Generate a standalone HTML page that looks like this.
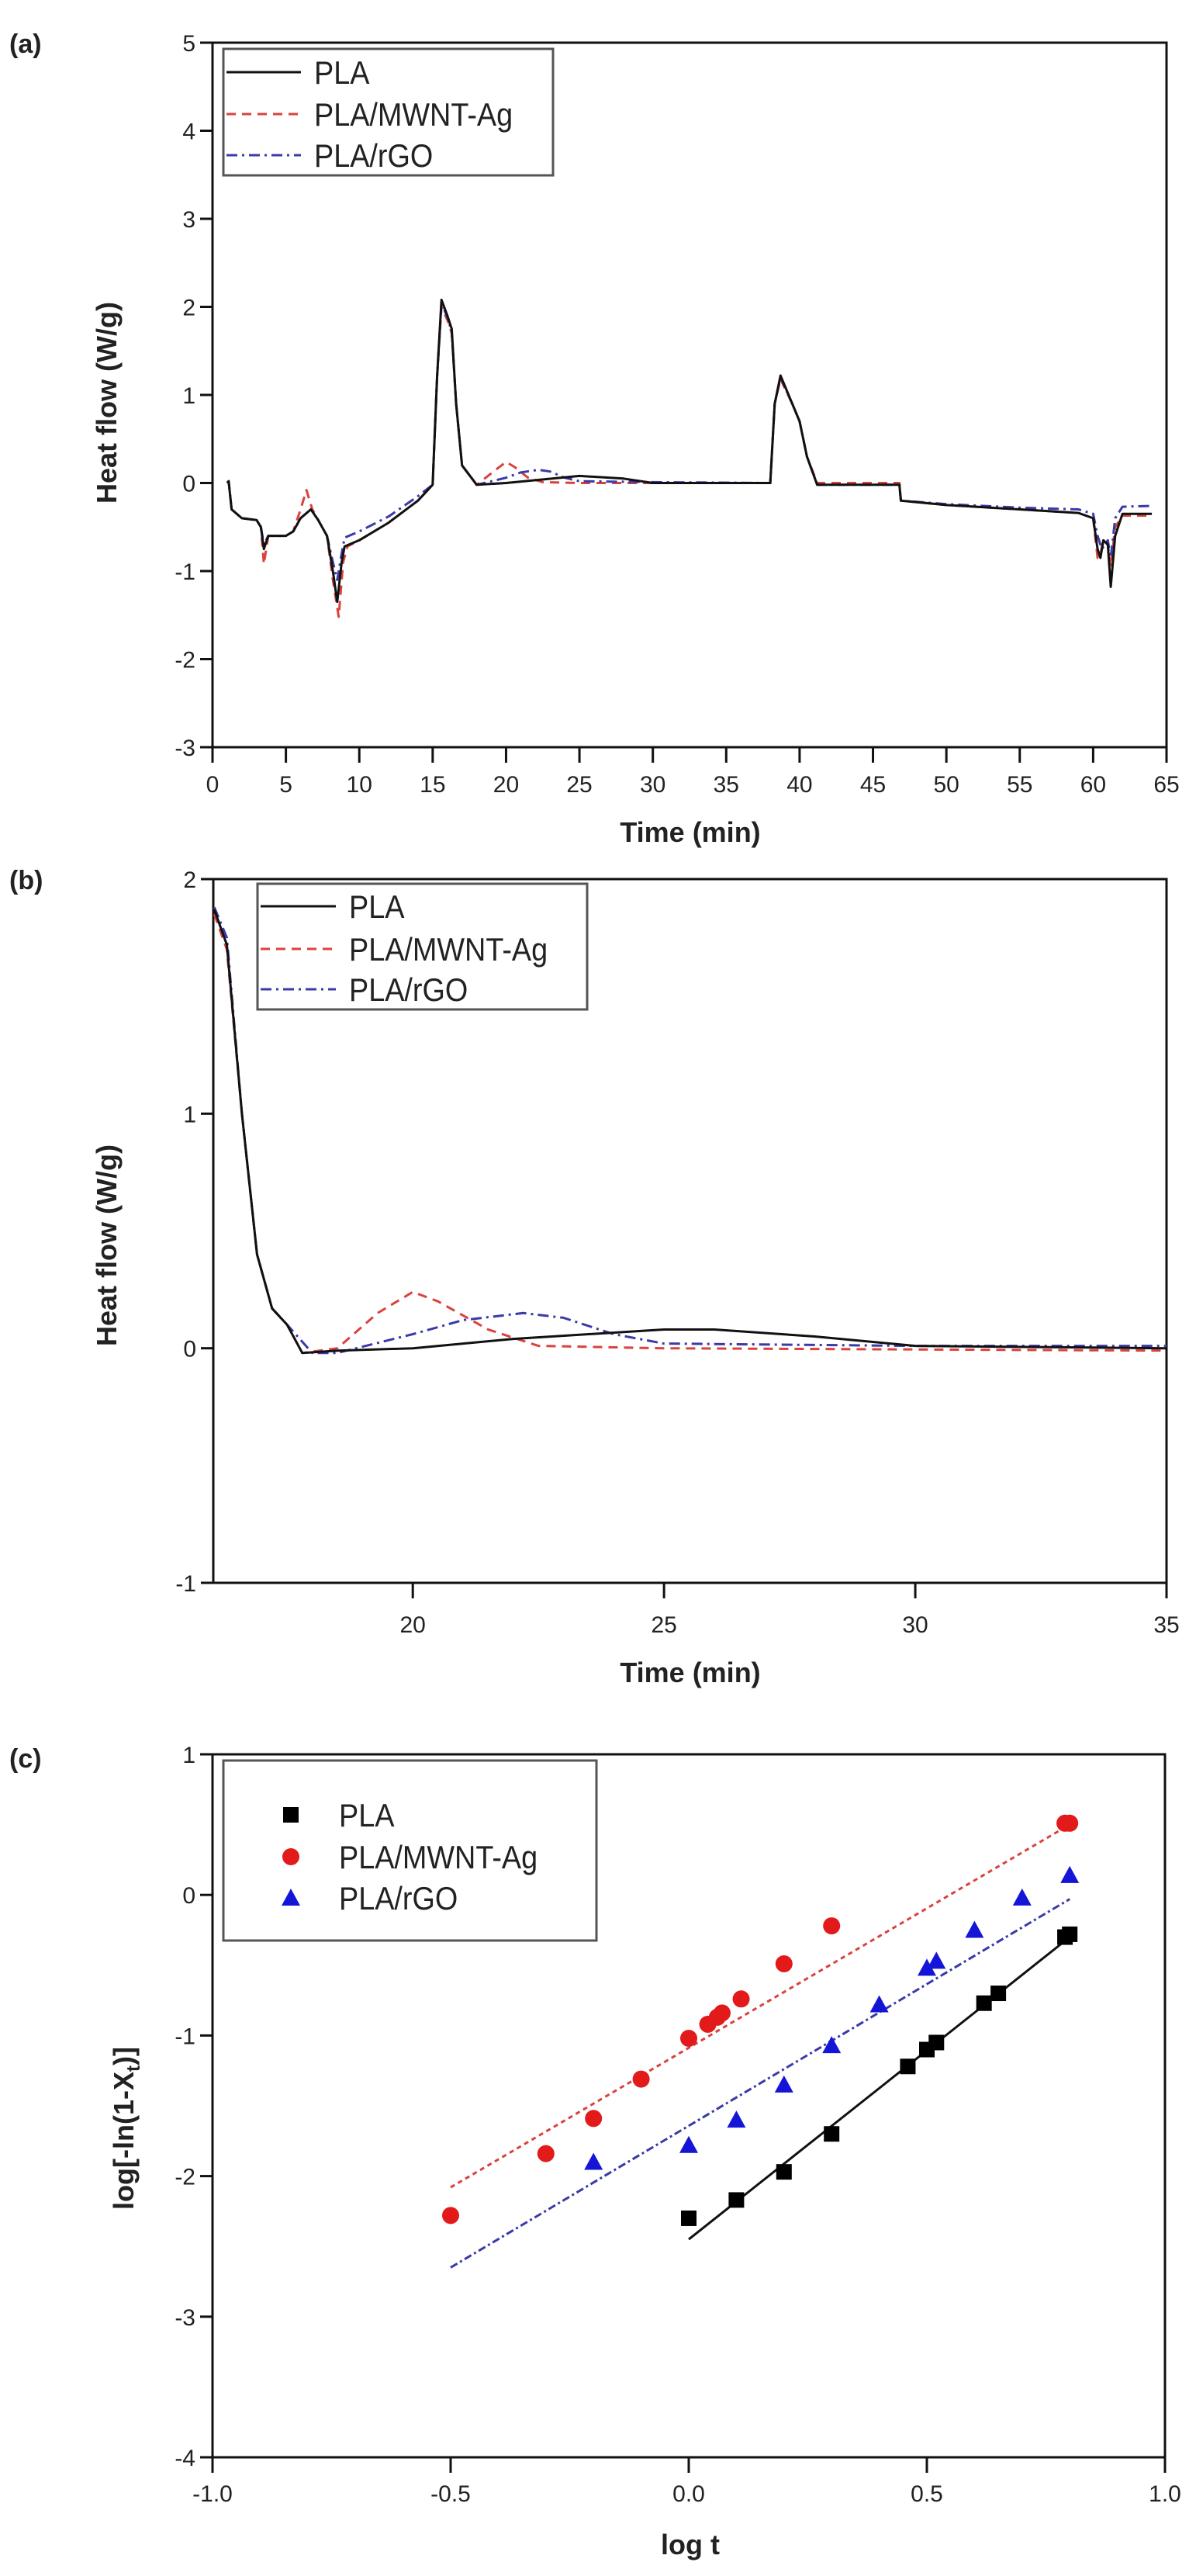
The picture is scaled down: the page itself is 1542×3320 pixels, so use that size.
<!DOCTYPE html>
<html><head><meta charset="utf-8">
<style>
html,body{margin:0;padding:0;background:#fff;}
svg{display:block;}
text{font-family:"Liberation Sans",Arial,sans-serif;}
</style></head>
<body>
<svg id="s" width="1542" height="3320" viewBox="0 0 1542 3320" xmlns="http://www.w3.org/2000/svg">
<rect width="1542" height="3320" fill="#fff"/>
<g id="g"></g>
<text transform="translate(172,2743) rotate(-90)" text-anchor="middle" font-size="36" font-weight="bold" fill="#222">log[-ln(1-X<tspan font-size="24" dy="8">t</tspan><tspan dy="-8">)]</tspan></text>
</svg>
<script>
const NS="http://www.w3.org/2000/svg";
const g=document.getElementById('g');
function el(t,a,txt){const e=document.createElementNS(NS,t);for(const k in a)e.setAttribute(k,a[k]);if(txt!==undefined)e.textContent=txt;g.appendChild(e);return e;}
function txt(x,y,s,o){o=o||{};return el('text',Object.assign({x:x,y:y,'font-size':o.fs||30,'text-anchor':o.a||'middle','font-weight':o.w||'normal',fill:'#222'},o.extra||{}),s);}
function panel(P){
  const X=v=>P.x0+(v-P.xmin)/(P.xmax-P.xmin)*(P.x1-P.x0);
  const Y=v=>P.y1-(v-P.ymin)/(P.ymax-P.ymin)*(P.y1-P.y0);
  el('rect',{x:P.x0,y:P.y0,width:P.x1-P.x0,height:P.y1-P.y0,fill:'none',stroke:'#111','stroke-width':3});
  P.xt.forEach(v=>{const x=X(v);el('line',{x1:x,y1:P.y1,x2:x,y2:P.y1+20,stroke:'#111','stroke-width':3});txt(x,P.xly,P.xfmt?P.xfmt(v):String(v));});
  P.yt.forEach(v=>{const y=Y(v);el('line',{x1:P.x0-16,y1:y,x2:P.x0,y2:y,stroke:'#111','stroke-width':3});txt(P.x0-22,y+11,String(v),{a:'end'});});
  return [X,Y];
}
function path(X,Y,pts,col,dash){let d=pts.map((p,i)=>(i?'L':'M')+X(p[0]).toFixed(1)+' '+Y(p[1]).toFixed(1)).join(' ');const a={d:d,fill:'none',stroke:col,'stroke-width':3,'stroke-linejoin':'round'};if(dash)a['stroke-dasharray']=dash;el('path',a);}
const DASH='12 8', DD='14 6 3 6';
let [X,Y]=panel({x0:274,x1:1504,y0:55,y1:963,xmin:0,xmax:65,ymin:-3,ymax:5,xt:[0,5,10,15,20,25,30,35,40,45,50,55,60,65],yt:[5,4,3,2,1,0,-1,-2,-3],xly:1021});
txt(12,68,'(a)',{a:'start',fs:34,w:'bold',extra:{'font-family':'Liberation Serif'}});
txt(890,1085,'Time (min)',{fs:36,w:'bold'});
el('text',{x:0,y:0,transform:'translate(150,519) rotate(-90)','text-anchor':'middle','font-size':36,'font-weight':'bold',fill:'#222'},'Heat flow (W/g)');
const aPLA=[[1,0],[1.1,0.02],[1.3,-0.3],[2,-0.4],[3,-0.42],[3.3,-0.5],[3.5,-0.75],[3.8,-0.6],[5,-0.6],[5.5,-0.55],[6,-0.4],[6.7,-0.3],[7.2,-0.42],[7.8,-0.6],[8.2,-1.0],[8.5,-1.35],[8.8,-0.9],[9,-0.72],[10,-0.65],[12,-0.45],[14,-0.2],[15,-0.02],[15.3,1.2],[15.6,2.08],[16,1.9],[16.3,1.75],[16.6,0.9],[17,0.2],[18,-0.02],[20,0],[25,0.08],[28,0.05],[30,0],[38,0],[38.3,0.9],[38.7,1.22],[39.5,0.9],[40,0.7],[40.5,0.3],[41.2,-0.02],[45,-0.02],[46.8,-0.02],[46.9,-0.2],[50,-0.25],[55,-0.3],[59,-0.34],[60,-0.4],[60.3,-0.75],[60.5,-0.85],[60.7,-0.65],[61,-0.7],[61.2,-1.18],[61.5,-0.6],[62,-0.35],[64,-0.35]];
const aRed=[[1,0],[1.1,0.02],[1.3,-0.3],[2,-0.4],[3,-0.42],[3.3,-0.5],[3.5,-0.92],[3.8,-0.6],[5,-0.6],[5.5,-0.55],[6,-0.3],[6.4,-0.08],[6.8,-0.3],[7.2,-0.42],[7.8,-0.6],[8.2,-1.1],[8.6,-1.52],[8.9,-0.9],[9.2,-0.72],[10,-0.65],[12,-0.45],[14,-0.2],[15,-0.02],[15.3,1.2],[15.6,2.0],[16,1.85],[16.3,1.7],[16.6,0.9],[17,0.2],[18,-0.02],[19.3,0.15],[20,0.24],[20.6,0.18],[21.5,0.06],[22.5,0.01],[25,0],[30,0],[38,0],[38.3,0.9],[38.7,1.18],[39.5,0.9],[40,0.7],[40.5,0.3],[41.2,0],[45,0],[46.8,0],[46.9,-0.2],[50,-0.25],[55,-0.3],[59,-0.34],[60,-0.4],[60.3,-0.85],[60.5,-0.8],[60.7,-0.65],[61,-0.7],[61.2,-0.95],[61.5,-0.5],[62,-0.37],[64,-0.37]];
const aBlue=[[1,0],[1.1,0.02],[1.3,-0.3],[2,-0.4],[3,-0.42],[3.3,-0.5],[3.5,-0.7],[3.8,-0.6],[5,-0.6],[5.5,-0.55],[6,-0.4],[6.7,-0.3],[7.2,-0.42],[7.8,-0.6],[8.2,-0.9],[8.5,-1.1],[8.8,-0.8],[9,-0.62],[10,-0.55],[12,-0.38],[14,-0.15],[15,-0.02],[15.3,1.2],[15.6,2.05],[16,1.88],[16.3,1.72],[16.6,0.9],[17,0.2],[18,-0.02],[20,0.06],[21,0.12],[22.2,0.15],[23,0.13],[24,0.06],[25,0.02],[30,0.01],[38,0],[38.3,0.9],[38.7,1.2],[39.5,0.9],[40,0.7],[40.5,0.3],[41.2,-0.02],[45,-0.02],[46.8,-0.02],[46.9,-0.2],[50,-0.24],[55,-0.28],[59,-0.3],[60,-0.35],[60.3,-0.6],[60.6,-0.75],[61,-0.65],[61.2,-0.85],[61.5,-0.4],[62,-0.27],[64,-0.26]];
path(X,Y,aRed,'#d9433c',DASH);path(X,Y,aBlue,'#3a3aa8',DD);path(X,Y,aPLA,'#111');
function legendLines(bx0,by0,bx1,by1,rows,sx0,sx1,tx){
  el('rect',{x:bx0,y:by0,width:bx1-bx0,height:by1-by0,fill:'#fff',stroke:'#555','stroke-width':3});
  const L=[['PLA','#111',null],['PLA/MWNT-Ag','#d9433c',DASH],['PLA/rGO','#3a3aa8',DD]];
  L.forEach((l,i)=>{const a={x1:sx0,y1:rows[i],x2:sx1,y2:rows[i],stroke:l[1],'stroke-width':3};if(l[2])a['stroke-dasharray']=l[2];el('line',a);
    el('text',{x:tx,y:rows[i]+15,'font-size':42,fill:'#222',transform:`translate(${tx},0) scale(0.9,1) translate(${-tx},0)`},l[0]);});
}
legendLines(288,63,713,226,[93,147,200],292,388,405);
[X,Y]=panel({x0:275,x1:1504,y0:1133,y1:2040,xmin:16.03,xmax:35,ymin:-1,ymax:2,xt:[20,25,30,35],yt:[2,1,0,-1],xly:2104});
txt(12,1146,'(b)',{a:'start',fs:34,w:'bold',extra:{'font-family':'Liberation Serif'}});
txt(890,2168,'Time (min)',{fs:36,w:'bold'});
el('text',{x:0,y:0,transform:'translate(150,1605) rotate(-90)','text-anchor':'middle','font-size':36,'font-weight':'bold',fill:'#222'},'Heat flow (W/g)');
const bPLA=[[16.05,1.87],[16.3,1.72],[16.6,1.0],[16.9,0.4],[17.2,0.17],[17.5,0.1],[17.8,-0.02],[18.5,-0.01],[20,0],[22,0.04],[25,0.08],[26,0.08],[28,0.05],[30,0.01],[35,0]];
const bRed=[[16.05,1.85],[16.3,1.7],[16.6,1.0],[16.9,0.4],[17.2,0.17],[17.5,0.1],[17.8,-0.02],[18.5,0],[19.3,0.15],[20,0.24],[20.5,0.2],[21.5,0.08],[22.5,0.01],[25,0],[35,-0.01]];
const bBlue=[[16.05,1.88],[16.3,1.75],[16.6,1.0],[16.9,0.4],[17.2,0.17],[17.5,0.1],[18,-0.02],[18.5,-0.02],[20,0.06],[21,0.12],[22.2,0.15],[23,0.13],[24,0.06],[25,0.02],[30,0.01],[35,0.01]];
path(X,Y,bRed,'#d9433c',DASH);path(X,Y,bBlue,'#3a3aa8',DD);path(X,Y,bPLA,'#111');
legendLines(332,1139,757,1301,[1168,1223,1275],336,433,450);
[X,Y]=panel({x0:274,x1:1502,y0:2261,y1:3167,xmin:-1,xmax:1,ymin:-4,ymax:1,xt:[-1,-0.5,0,0.5,1],yt:[1,0,-1,-2,-3,-4],xly:3224,xfmt:v=>v.toFixed(1)});
txt(12,2278,'(c)',{a:'start',fs:34,w:'bold',extra:{'font-family':'Liberation Serif'}});
txt(890,3292,'log t',{fs:36,w:'bold'});
path(X,Y,[[-0.5,-2.08],[0.8,0.5]],'#d9433c','6 5');
path(X,Y,[[-0.5,-2.65],[0.8,-0.03]],'#3a3aa8','10 4 3 4');
path(X,Y,[[0,-2.45],[0.8,-0.3]],'#111');
function sq(x,y){el('rect',{x:x-10,y:y-10,width:20,height:20,fill:'#000'});}
function ci(x,y){el('circle',{cx:x,cy:y,r:11,fill:'#e21a1a'});}
function tr(x,y){el('path',{d:`M${x} ${y-12} L${x+12} ${y+10} L${x-12} ${y+10}Z`,fill:'#1515d8'});}
[[0,-2.3],[0.1,-2.17],[0.2,-1.97],[0.3,-1.7],[0.46,-1.22],[0.5,-1.1],[0.52,-1.05],[0.62,-0.77],[0.65,-0.7],[0.79,-0.3],[0.8,-0.28]].forEach(p=>sq(X(p[0]),Y(p[1])));
[[-0.5,-2.28],[-0.3,-1.84],[-0.2,-1.59],[-0.1,-1.31],[0,-1.02],[0.04,-0.92],[0.06,-0.87],[0.07,-0.84],[0.11,-0.74],[0.2,-0.49],[0.3,-0.22],[0.79,0.51],[0.8,0.51]].forEach(p=>ci(X(p[0]),Y(p[1])));
[[-0.2,-1.9],[0,-1.78],[0.1,-1.6],[0.2,-1.35],[0.3,-1.07],[0.4,-0.78],[0.5,-0.52],[0.52,-0.47],[0.6,-0.25],[0.7,-0.02],[0.8,0.14]].forEach(p=>tr(X(p[0]),Y(p[1])));
el('rect',{x:288,y:2269,width:481,height:232,fill:'#fff',stroke:'#555','stroke-width':3});
sq(375,2339);ci(375,2393);tr(375,2446);
[['PLA',2339],['PLA/MWNT-Ag',2393],['PLA/rGO',2446]].forEach(r=>el('text',{x:437,y:r[1]+15,'font-size':42,fill:'#222',transform:`translate(437,0) scale(0.9,1) translate(-437,0)`},r[0]));
</script>
</body></html>
